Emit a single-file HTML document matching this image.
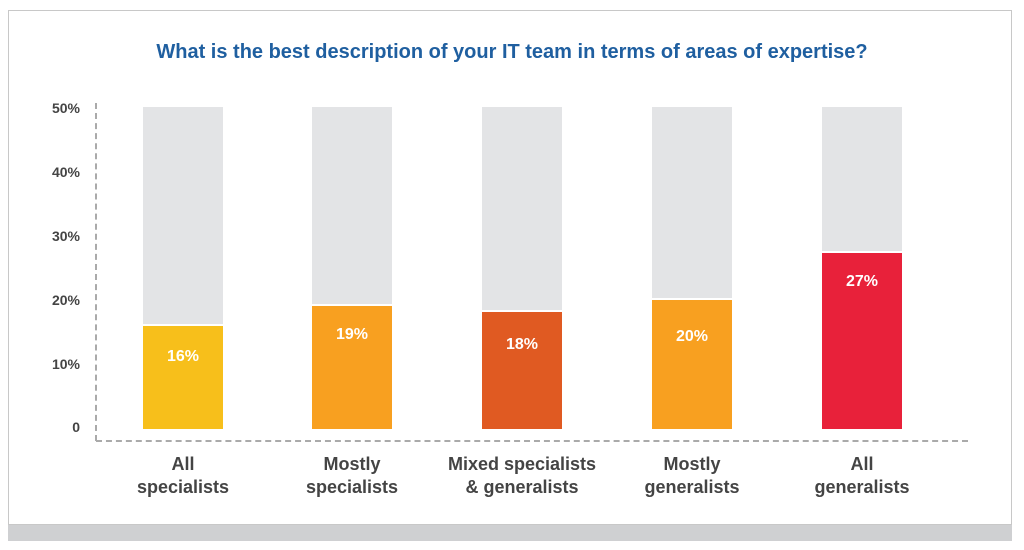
<!DOCTYPE html>
<html><head><style>
body{margin:0;width:1024px;height:550px;background:#fff;font-family:"Liberation Sans",sans-serif;position:relative;overflow:hidden}
.frame{position:absolute;left:8px;top:10px;width:1004px;height:515px;border:1px solid #c8c8c8;box-sizing:border-box}
.strip{position:absolute;left:8px;top:525px;width:1004px;height:16px;background:#cfd0d2}
.title{position:absolute;top:41px;left:0;width:1024px;text-align:center;color:#1f5fa0;font-weight:bold;font-size:20px}
.yl{position:absolute;left:20px;width:60px;text-align:right;color:#444;font-weight:bold;font-size:14px}
.bg{position:absolute;top:107px;width:80px;height:322px;background:#e3e4e6}
.bar{position:absolute;width:80px;bottom:121px;border-top:2px solid #fff;color:#fff;font-weight:bold;font-size:16px;text-align:center;box-sizing:border-box;padding-top:22px}
.xl{position:absolute;top:453px;width:200px;text-align:center;color:#444;font-weight:bold;font-size:18px;line-height:23px}
</style></head><body>
<div class="frame"></div><div class="strip"></div>
<div class="title">What is the best description of your IT team in terms of areas of expertise?</div>
<div class="yl" style="top:100px">50%</div>
<div class="yl" style="top:164px">40%</div>
<div class="yl" style="top:228px">30%</div>
<div class="yl" style="top:292px">20%</div>
<div class="yl" style="top:356px">10%</div>
<div class="yl" style="top:419px">0</div>
<div style="position:absolute;left:95px;top:103px;height:338px;border-left:2px dashed #aaa"></div>
<div style="position:absolute;left:96px;top:440px;width:872px;border-top:2px dashed #aaa"></div>
<div class="bg" style="left:143px"></div>
<div class="bg" style="left:312px"></div>
<div class="bg" style="left:482px"></div>
<div class="bg" style="left:652px"></div>
<div class="bg" style="left:822px"></div>
<div class="bar" style="left:143px;height:105px;background:#f7bf1b">16%</div>
<div class="bar" style="left:312px;height:125px;background:#f8a020;padding-top:20px">19%</div>
<div class="bar" style="left:482px;height:119px;background:#e05a22;padding-top:24px">18%</div>
<div class="bar" style="left:652px;height:131px;background:#f8a020;padding-top:28px">20%</div>
<div class="bar" style="left:822px;height:178px;background:#e8213a;padding-top:20px">27%</div>
<div class="xl" style="left:83px">All<br>specialists</div>
<div class="xl" style="left:252px">Mostly<br>specialists</div>
<div class="xl" style="left:422px">Mixed specialists<br>&amp; generalists</div>
<div class="xl" style="left:592px">Mostly<br>generalists</div>
<div class="xl" style="left:762px">All<br>generalists</div>
</body></html>
